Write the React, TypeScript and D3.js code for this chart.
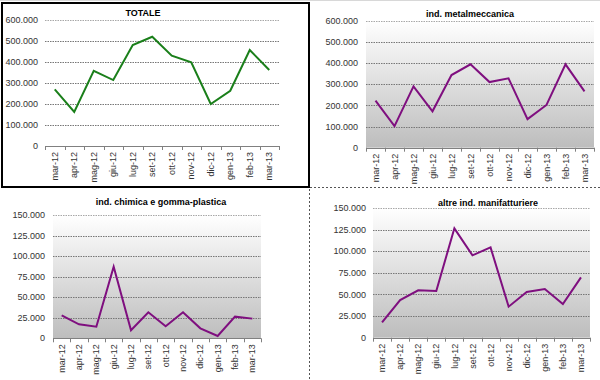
import React from "react";
import * as d3 from "d3";

const categories = ["mar-12","apr-12","mag-12","giu-12","lug-12","set-12","ott-12","nov-12","dic-12","gen-13","feb-13","mar-13"];
const totale = [270000,162000,358000,314000,481000,520000,430000,398000,200000,263000,457000,362000];
const metalmeccanica = [222000,102000,290000,172000,343000,394000,310000,328000,135000,202000,394000,266000];
const chimica = [28000,17000,14200,87400,9800,31700,14600,31700,12200,2800,26400,24000];
const altre = [17700,43600,54800,54000,126500,95300,104500,35900,52900,56300,39000,69800];
const ticksBig = [0,100000,200000,300000,400000,500000,600000];
const ticksSmall = [0,25000,50000,75000,100000,125000,150000];

const fmt = (v: number) => d3.format(",")(v).replace(/,/g, ".");

type ChartProps = {
  title: string; titleX: number; titleY: number;
  x0: number; x1: number; yTop: number; yBot: number; labelRight: number;
  values: number[]; ticks: number[]; color: string; gradient: boolean; gid: string;
};

function Chart(p: ChartProps) {
  const max = p.ticks[p.ticks.length - 1];
  const y = d3.scaleLinear().domain([0, max]).range([p.yBot, p.yTop]);
  const x = d3.scaleBand().domain(categories).range([p.x0, p.x1]);
  const line = d3.line<number>()
    .x((_, i) => (x(categories[i]) as number) + x.bandwidth() / 2)
    .y((v) => y(v));
  const font = "'Liberation Sans', Arial, sans-serif";
  return (
    <g>
      {p.gradient && (
        <>
          <defs>
            <linearGradient id={p.gid} x1="0" y1="0" x2="0" y2="1">
              <stop offset="0" stopColor="#ffffff" />
              <stop offset="1" stopColor="#bdbdbd" />
            </linearGradient>
          </defs>
          <rect x={p.x0} y={p.yTop} width={p.x1 - p.x0} height={p.yBot - p.yTop} fill={`url(#${p.gid})`} />
        </>
      )}
      {p.ticks.map((t, i) => (
        <g key={t}>
          {t > 0 && (
            <line x1={p.x0} x2={p.x1} y1={Math.round(y(t)) + 0.5} y2={Math.round(y(t)) + 0.5}
              stroke={i === p.ticks.length - 1 ? "#a8a8a8" : "#777"} strokeWidth={1} strokeDasharray="1.5,1" />
          )}
          <text x={p.labelRight} y={y(t)} dy="0.35em" textAnchor="end" fontSize={9} fill="#333" fontFamily={font}>{fmt(t)}</text>
        </g>
      ))}
      <line x1={p.x0} x2={p.x1} y1={Math.round(p.yBot) + 0.5} y2={Math.round(p.yBot) + 0.5} stroke="#808080" strokeWidth={1} />
      {categories.map((c, i) => (
        <line key={"t" + c} x1={Math.round(x(c) as number) + 0.5} x2={Math.round(x(c) as number) + 0.5}
          y1={p.yBot} y2={p.yBot + 4} stroke="#808080" />
      ))}
      <line x1={Math.round(p.x1) + 0.5} x2={Math.round(p.x1) + 0.5} y1={p.yBot} y2={p.yBot + 4} stroke="#808080" />
      {categories.map((c) => {
        const cx = (x(c) as number) + x.bandwidth() / 2;
        const ty = p.yBot + 6;
        return (
          <text key={"l" + c} x={cx} y={ty} dy="0.35em" textAnchor="end" fontSize={9} fill="#333" fontFamily={font}
            transform={`rotate(-90 ${cx} ${ty})`}>{c}</text>
        );
      })}
      <path d={line(p.values) || ""} fill="none" stroke={p.color} strokeWidth={2} strokeLinejoin="miter" />
      <text x={p.titleX} y={p.titleY} textAnchor="middle" fontSize={9} fontWeight="bold" fill="#000" fontFamily={font}>{p.title}</text>
    </g>
  );
}

export default function App() {
  return (
    <svg width={600} height={380} style={{ position: "absolute", left: 0, top: 0, background: "#fff" }}>
      <line x1={0} x2={600} y1={0.5} y2={0.5} stroke="#d8d8d8" />
      <rect x={2} y={3} width={307} height={184} fill="none" stroke="#000" strokeWidth={2} />
      <line x1={310} x2={600} y1={187.5} y2={187.5} stroke="#555" strokeDasharray="2,2" />
      <line x1={309.5} x2={309.5} y1={189} y2={380} stroke="#555" strokeDasharray="2,2" />
      <Chart title="TOTALE" titleX={143} titleY={16} x0={45} x1={279} yTop={20} yBot={146} labelRight={38}
        values={totale} ticks={ticksBig} color="#1a7f1a" gradient={false} gid="g1" />
      <Chart title="ind. metalmeccanica" titleX={470} titleY={17} x0={366} x1={594} yTop={20.7} yBot={147.7} labelRight={358}
        values={metalmeccanica} ticks={ticksBig} color="#7f0f7f" gradient={true} gid="g2" />
      <Chart title="ind. chimica e gomma-plastica" titleX={161} titleY={205} x0={53} x1={261} yTop={215.3} yBot={338.3} labelRight={45}
        values={chimica} ticks={ticksSmall} color="#7f0f7f" gradient={true} gid="g3" />
      <Chart title="altre ind. manifatturiere" titleX={488} titleY={206} x0={373} x1={590} yTop={208} yBot={337.7} labelRight={366}
        values={altre} ticks={ticksSmall} color="#7f0f7f" gradient={true} gid="g4" />
    </svg>
  );
}
